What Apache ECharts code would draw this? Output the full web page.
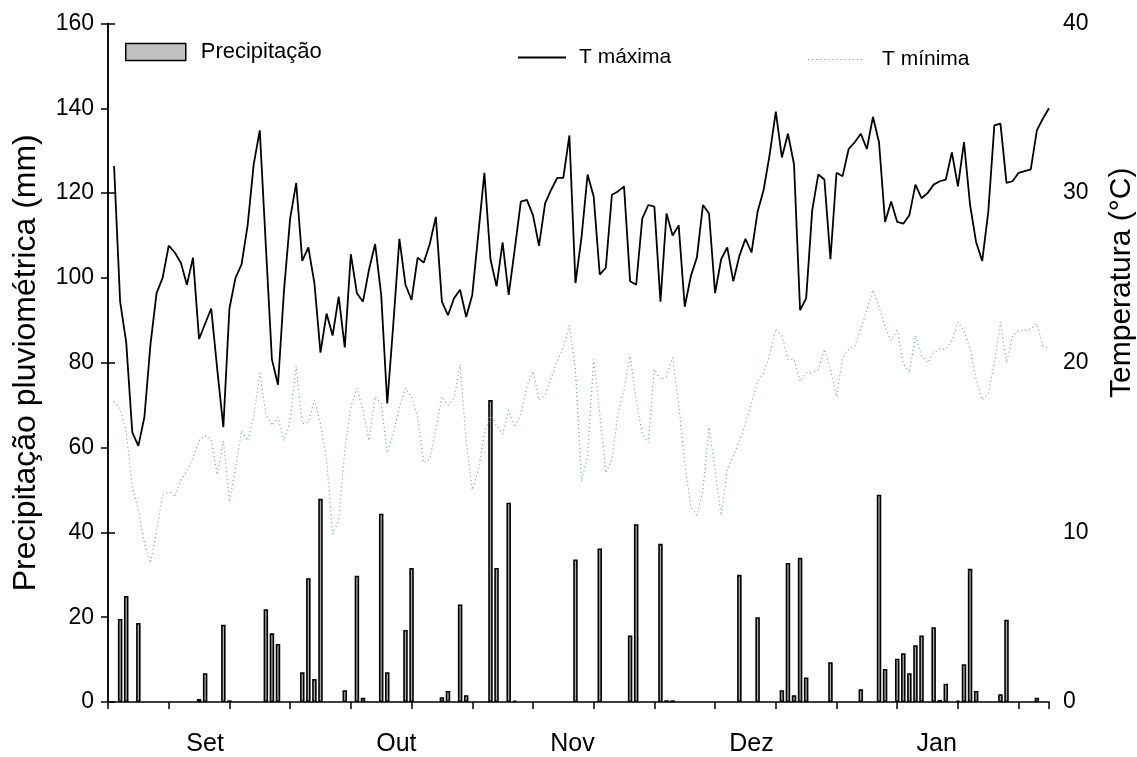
<!DOCTYPE html>
<html>
<head>
<meta charset="utf-8">
<script src="https://cdn.jsdelivr.net/npm/echarts@6/dist/echarts.min.js"></script>
<style>
html,body{margin:0;padding:0;background:#fff;}
#chart{width:1137px;height:757px;}
</style>
</head>
<body>
<div id="chart"></div>
<script>
// Daily values, day 1 = first day of the record
const tmax = [31.6,23.6,21.2,15.9,15.1,16.8,21.1,24.1,25.0,26.9,26.5,25.9,24.6,26.2,21.4,22.3,23.2,19.6,16.2,23.2,
25.0,25.8,28.1,31.7,33.7,26.9,20.2,18.7,24.3,28.5,30.6,26.0,26.8,24.7,20.6,22.9,21.6,23.9,20.9,26.4,
24.1,23.6,25.5,27.0,24.0,17.6,22.3,27.3,24.6,23.7,26.2,25.9,27.0,28.6,23.6,22.8,23.8,24.3,22.7,24.0,
27.6,31.2,26.1,24.5,27.1,24.0,26.7,29.5,29.6,28.7,26.9,29.4,30.2,30.9,30.9,33.4,24.7,27.4,31.1,29.8,
25.2,25.6,29.9,30.1,30.4,24.8,24.6,28.5,29.3,29.2,23.6,28.8,27.5,28.1,23.3,25.1,26.2,29.3,28.8,24.1,
26.1,26.8,24.8,26.3,27.3,26.5,28.9,30.2,32.3,34.8,32.1,33.5,31.7,23.1,23.8,29.0,31.1,30.8,26.1,31.2,
31.0,32.6,33.0,33.5,32.6,34.5,33.0,28.3,29.5,28.3,28.2,28.7,30.5,29.7,30.0,30.5,30.7,30.8,32.4,30.4,
33.0,29.3,27.1,26.0,28.9,34.0,34.1,30.6,30.7,31.2,31.3,31.4,33.7,34.4,35.0];
const tmin = [17.7,17.3,15.9,12.7,11.3,9.4,8.2,10.1,12.2,12.4,12.1,13.1,13.6,14.4,15.4,15.7,15.5,13.4,15.4,11.8,
13.8,16.0,15.4,16.8,19.4,17.0,16.3,16.8,15.4,16.6,19.8,16.4,16.5,17.8,16.4,14.3,9.9,10.7,14.8,17.4,
18.5,17.2,15.4,18.0,17.6,14.7,15.8,17.4,18.5,18.0,16.8,14.1,14.3,16.1,18.0,17.5,17.9,19.9,15.4,12.5,
13.7,15.8,17.0,16.3,15.8,17.2,16.2,17.0,18.6,19.5,17.8,18.1,19.1,20.1,20.9,22.2,19.6,13.0,14.5,20.2,
17.0,13.5,14.3,17.0,18.4,20.4,17.8,15.8,15.3,19.6,19.0,19.2,20.3,17.6,14.1,11.5,11.0,12.5,16.2,13.7,
11.0,13.7,14.5,15.4,16.4,17.6,18.9,19.4,20.5,22.0,21.6,20.2,20.2,18.9,19.4,19.4,19.6,20.8,19.6,18.0,
20.3,20.8,21.0,22.0,23.1,24.3,23.3,22.1,21.3,21.9,20.0,19.4,21.6,20.4,20.0,20.6,20.8,20.8,21.3,22.4,
21.9,20.8,19.0,17.8,18.2,20.0,22.4,20.0,21.6,21.9,21.9,22.0,22.3,21.0,20.8];
const rainDays = [2,3,5,15,16,19,20,26,27,28,32,33,34,35,39,41,42,45,46,49,50,55,56,58,59,63,64,66,67,77,81,86,87,91,92,93,
104,107,111,112,113,114,115,119,124,127,128,130,131,132,133,134,136,137,138,140,141,142,143,147,148,153];
const rainMm = [19.6,25.0,18.6,0.7,6.8,18.2,0.4,21.9,16.2,13.7,7.0,29.2,5.4,47.9,2.8,29.8,1.0,44.4,7.0,17.0,31.6,1.1,2.6,23.0,1.6,
71.2,31.6,47.0,0.3,33.6,36.2,15.7,41.9,37.3,0.4,0.4,30.0,20.0,2.8,32.8,1.6,34.0,5.8,9.4,3.0,48.9,7.8,10.2,11.5,6.8,13.4,15.7,
17.6,0.5,4.3,0.3,8.9,31.4,2.6,1.8,19.4,1.0];
const monthNames = ['Set','Out','Nov','Dez','Jan'];
const monthPos = [16, 47.5, 76.5, 106, 136.5];
const seriesNames = ['Precipitação','T máxima','T mínima'];
const leftTicks = [0,20,40,60,80,100,120,140,160];
const rightTicks = [0,10,20,30,40];

const FONT = 'Liberation Sans, Arial, sans-serif';
const TMIN_COLOR = '#6aa87a';
// dotted legend swatch: row of small squares
let dots = '';
for (let k = 0; k < 14; k++) dots += 'M' + (k*4) + ',0h1.2v1h-1.2z';
const chart = echarts.init(document.getElementById('chart'), null, {renderer:'canvas'});
const axisLine = {show:true, lineStyle:{color:'#000', width:1.5}};
const tick = {show:true, inside:false, length:7, lineStyle:{color:'#000', width:1.5}};
const option = {
  backgroundColor:'#fff',
  animation:false,
  textStyle:{fontFamily:FONT},
  grid:{left:108, right:88, top:23.5, bottom:55, containLabel:false, outerBoundsMode:'none'},
  legend:[
    {data:[{name:seriesNames[0], icon:'rect'}], left:120, top:36, itemWidth:60, itemHeight:17,
     itemStyle:{color:'#c0c0c0', borderColor:'#000', borderWidth:1.5},
     textStyle:{fontSize:22, fontFamily:FONT, color:'#000', padding:[0,0,0,10]}},
    {data:[{name:seriesNames[1], icon:'rect'}], left:513, top:42, itemWidth:48, itemHeight:1.8,
     itemStyle:{color:'#000', borderWidth:0},
     textStyle:{fontSize:21, fontFamily:FONT, color:'#000', padding:[0,0,0,8]}},
    {data:[{name:seriesNames[2], icon:'path://' + dots}], left:803, top:44, itemWidth:54, itemHeight:1.5,
     itemStyle:{color:TMIN_COLOR, borderWidth:0},
     textStyle:{fontSize:21, fontFamily:FONT, color:'#000', padding:[0,0,0,15]}}
  ],
  xAxis:[
    {type:'value', min:0, max:155, interval:10, position:'bottom',
     axisLine:axisLine, axisTick:tick, axisLabel:{show:false}, splitLine:{show:false}},
    {type:'value', min:0, max:155, interval:0.5, position:'bottom', gridIndex:0,
     axisLine:{show:false}, axisTick:{show:false}, splitLine:{show:false},
     axisLabel:{show:true, margin:30, fontSize:25, color:'#000', fontFamily:FONT,
       formatter:function(v){const i = monthPos.indexOf(v); return i>=0 ? monthNames[i] : '';}}}
  ],
  yAxis:[
    {type:'value', min:leftTicks[0], max:leftTicks[leftTicks.length-1], interval:20, position:'left',
     name:'Precipitação pluviométrica (mm)', nameLocation:'middle', nameGap:66, nameRotate:90,
     nameTextStyle:{fontSize:32, color:'#000', fontFamily:FONT},
     axisLine:axisLine, axisTick:tick,
     axisLabel:{fontSize:23, color:'#000', margin:14, fontFamily:FONT}, splitLine:{show:false}},
    {type:'value', min:rightTicks[0], max:rightTicks[rightTicks.length-1], interval:10, position:'right',
     name:'Temperatura (°C)', nameLocation:'middle', nameGap:58, nameRotate:90,
     nameTextStyle:{fontSize:30, color:'#000', fontFamily:FONT, padding:[0,0,0,160]},
     axisLine:axisLine, axisTick:tick,
     axisLabel:{fontSize:23, color:'#000', margin:14, fontFamily:FONT}, splitLine:{show:false}}
  ],
  series:[
    {name:seriesNames[0], type:'bar', xAxisIndex:0, yAxisIndex:0, barWidth:4.5,
     itemStyle:{color:'#a8a8a8', borderColor:'#000', borderWidth:1.6},
     data:rainDays.map((d,i)=>[d, rainMm[i]])},
    {name:seriesNames[1], type:'line', xAxisIndex:0, yAxisIndex:1, symbol:'none',
     lineStyle:{color:'#000', width:1.8}, itemStyle:{color:'#000'},
     data:tmax.map((v,i)=>[i+1, v])},
    {name:seriesNames[2], type:'line', xAxisIndex:0, yAxisIndex:1, symbol:'none',
     lineStyle:{color:TMIN_COLOR, width:1.2, type:[1,3]}, itemStyle:{color:TMIN_COLOR},
     data:tmin.map((v,i)=>[i+1, v])}
  ]
};
chart.setOption(option);
</script>
</body>
</html>
